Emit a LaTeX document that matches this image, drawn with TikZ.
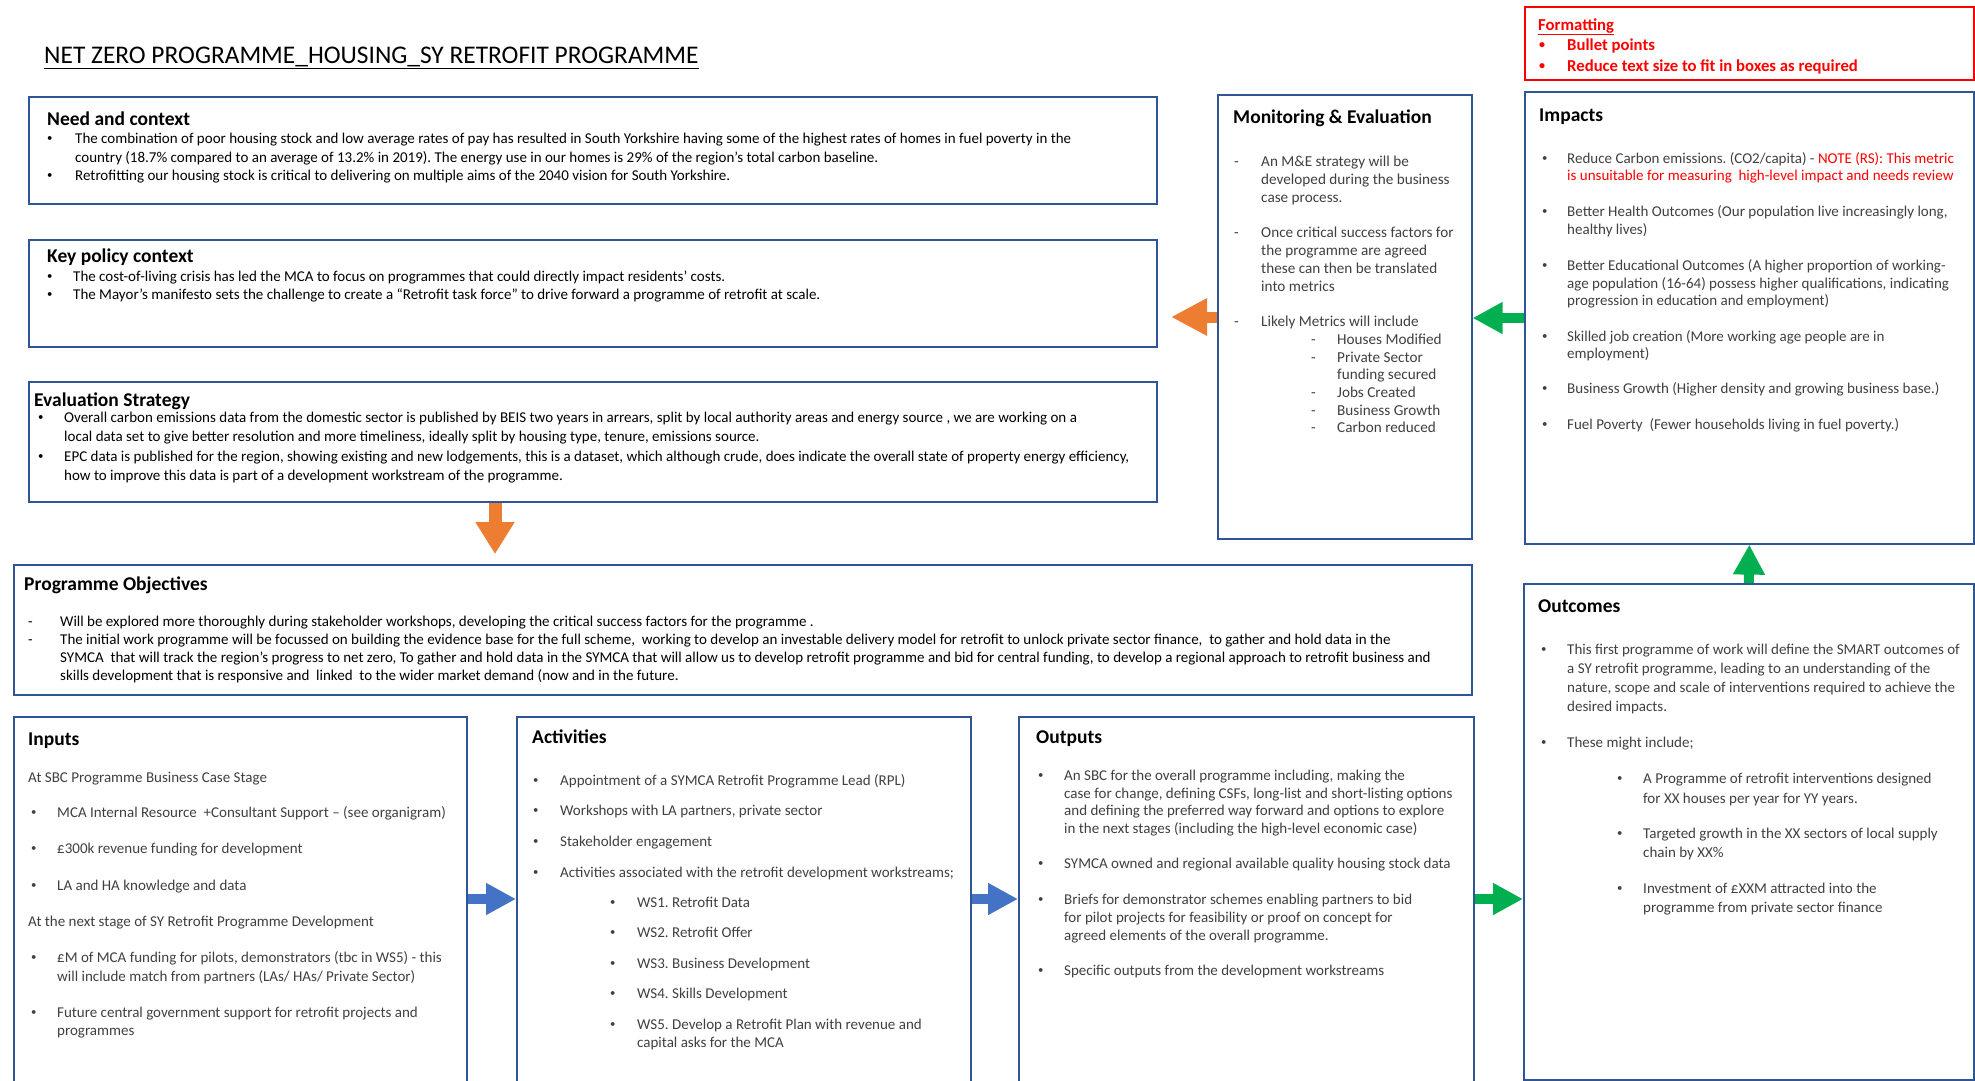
\documentclass[tikz,border=0pt]{standalone}
\usepackage{fontspec}
\usepackage{graphicx}
\setmainfont{Carlito}
\frenchspacing
\usetikzlibrary{arrows.meta}
\definecolor{boxblue}{RGB}{47,85,151}
\definecolor{arrorange}{RGB}{237,125,49}
\definecolor{arrblue}{RGB}{68,114,196}
\definecolor{arrgreen}{RGB}{0,176,80}
\definecolor{fmtred}{RGB}{255,0,0}
\definecolor{bodygray}{RGB}{64,64,64}
\newcommand\bul{\raisebox{.12em}{\scalebox{.72}{•}}}
\tikzset{
  bx/.style={draw=boxblue, line width=1.6pt, inner sep=0pt, anchor=north west, fill=white},
  redbx/.style={draw=fmtred, line width=1.6pt, inner sep=0pt, anchor=north west},
  tx/.style={inner sep=0pt, anchor=base west, font=\fontsize{15}{18}\selectfont, text=bodygray},
  txk/.style={tx, text=black, font=\fontsize{15}{18}\selectfont},
  txi/.style={tx, font=\fontsize{15}{18}\selectfont},
  txm/.style={tx, font=\fontsize{15.2}{18}\selectfont},
  hd/.style={inner sep=0pt, anchor=base west, font=\fontsize{19.5}{23}\selectfont\bfseries, text=black},
  fm/.style={inner sep=0pt, anchor=base west, font=\fontsize{16.7}{19}\selectfont\bfseries, text=fmtred},
  blockarr/.style={line width=10pt, -{Triangle[length=30pt,width=30pt]}},
}
\begin{document}
\begin{tikzpicture}[x=1pt,y=-1pt]
\useasboundingbox (0,0) rectangle (1975,1080);
\clip (0,0) rectangle (1975,1080);
\fill[white] (0,0) rectangle (1975,1080);

% ---------- boxes ----------
\node[redbx, minimum width=449pt, minimum height=73pt] (fmt) at (1524,6) {};
\node[bx, minimum width=1128pt, minimum height=107pt] (need) at (28,96) {};
\node[bx, minimum width=1128pt, minimum height=107pt] (key) at (28,239) {};
\node[bx, minimum width=1128pt, minimum height=120pt] (evals) at (28,381) {};
\node[bx, minimum width=1458pt, minimum height=130pt] (obj) at (13,564) {};
\node[bx, minimum width=254pt, minimum height=444pt] (me) at (1217,94) {};
\node[bx, minimum width=449pt, minimum height=452pt] (imp) at (1524,91) {};
\node[bx, minimum width=450pt, minimum height=496pt] (outc) at (1523,583) {};
\node[bx, minimum width=453pt, minimum height=380pt] (inp) at (13,716) {};
\node[bx, minimum width=454pt, minimum height=380pt] (act) at (516,716) {};
\node[bx, minimum width=455pt, minimum height=380pt] (outp) at (1018,716) {};

% ---------- arrows ----------
\coordinate (ya) at (0,899);
\coordinate (oa) at (1171,317);
\coordinate (ga) at (0,318);
\coordinate (od) at (495,554);
\draw[blockarr, arrblue] (inp.east |- ya) -- (act.west |- ya);
\draw[blockarr, arrblue] (act.east |- ya) -- (outp.west |- ya);
\draw[blockarr, arrgreen] (outp.east |- ya) -- (outc.west |- ya);
\draw[blockarr, arrgreen] (outc.north) -- (imp.south);
\draw[blockarr, arrgreen] (imp.west |- ga) -- (me.east |- ga);
\draw[line width=11pt, arrorange, -{Triangle[length=36pt,width=35pt]}] (me.west |- oa) -- (oa);
\draw[line width=13pt, arrorange, -{Triangle[length=32pt,width=37pt]}] (evals.south -| od) -- (od);

% ---------- title ----------
\node[inner sep=0pt, anchor=base west, font=\fontsize{25.4}{30}\selectfont] (title) at (44,63)
  {\underline{NET ZERO PROGRAMME\_HOUSING\_SY RETROFIT PROGRAMME}};

% ---------- formatting ----------
\node[fm] (fmt-t) at (1538,30) {\underline{Formatting}};
\node[fm] (fmt-b1) at (1539,50) {\bul};
\node[fm] (fmt-1) at (1567,50) {Bullet points};
\node[fm] (fmt-b2) at (1539,71) {\bul};
\node[fm] (fmt-2) at (1567,71) {Reduce text size to fit in boxes as required};

% ---------- need and context ----------
\node[hd] (need-t) at (47,125) {Need and context};
\node[txk] (need-b1) at (47,143) {\bul};
\node[txk] (need-1) at (75,143) {The combination of poor housing stock and low average rates of pay has resulted in South Yorkshire having some of the highest rates of homes in fuel poverty in the};
\node[txk] (need-2) at (75,162) {country (18.7\% compared to an average of 13.2\% in 2019). The energy use in our homes is 29\% of the region’s total carbon baseline.};
\node[txk] (need-b2) at (47,180) {\bul};
\node[txk] (need-3) at (75,180) {Retrofitting our housing stock is critical to delivering on multiple aims of the 2040 vision for South Yorkshire.};

% ---------- key policy ----------
\node[hd] (key-t) at (47,262) {Key policy context};
\node[txk] (key-b1) at (47,281) {\bul};
\node[txk] (key-1) at (73,281) {The cost-of-living crisis has led the MCA to focus on programmes that could directly impact residents' costs.};
\node[txk] (key-b2) at (47,299) {\bul};
\node[txk] (key-2) at (73,299) {The Mayor’s manifesto sets the challenge to create a “Retrofit task force” to drive forward a programme of retrofit at scale.};

% ---------- evaluation strategy ----------
\node[hd] (ev-t) at (34,406) {Evaluation Strategy};
\node[txk] (ev-b1) at (38,422) {\bul};
\node[txk] (ev-1) at (64,422) {Overall carbon emissions data from the domestic sector is published by BEIS two years in arrears, split by local authority areas and energy source , we are working on a};
\node[txk] (ev-2) at (64,441) {local data set to give better resolution and more timeliness, ideally split by housing type, tenure, emissions source.};
\node[txk] (ev-b2) at (38,461) {\bul};
\node[txk] (ev-3) at (64,461) {EPC data is published for the region, showing existing and new lodgements, this is a dataset, which although crude, does indicate the overall state of property energy efficiency,};
\node[txk] (ev-4) at (64,480) {how to improve this data is part of a development workstream of the programme.};

% ---------- programme objectives ----------
\node[hd] (obj-t) at (24,590) {Programme Objectives};
\node[txk] (obj-d1) at (28,626) {-};
\node[txk] (obj-1) at (60,626) {Will be explored more thoroughly during stakeholder workshops, developing the critical success factors for the programme .};
\node[txk] (obj-d2) at (28,644) {-};
\node[txk] (obj-2) at (60,644) {The initial work programme will be focussed on building the evidence base for the full scheme,\ \ working to develop an investable delivery model for retrofit to unlock private sector finance,\ \ to gather and hold data in the};
\node[txk] (obj-3) at (60,662) {SYMCA\ \ that will track the region’s progress to net zero, To gather and hold data in the SYMCA that will allow us to develop retrofit programme and bid for central funding, to develop a regional approach to retrofit business and};
\node[txk] (obj-4) at (60,680) {skills development that is responsive and\ \ linked\ \ to the wider market demand (now and in the future.};

% ---------- monitoring & evaluation ----------
\node[hd] (me-t) at (1233,123) {Monitoring \& Evaluation};
\node[txm] (me-d1) at (1234,166) {-};
\node[txm] (me-1) at (1261,166) {An M\&E strategy will be};
\node[txm] (me-2) at (1261,184) {developed during the business};
\node[txm] (me-3) at (1261,202) {case process.};
\node[txm] (me-d2) at (1234,237) {-};
\node[txm] (me-4) at (1261,237) {Once critical success factors for};
\node[txm] (me-5) at (1261,255) {the programme are agreed};
\node[txm] (me-6) at (1261,273) {these can then be translated};
\node[txm] (me-7) at (1261,291) {into metrics};
\node[txm] (me-d3) at (1234,326) {-};
\node[txm] (me-8) at (1261,326) {Likely Metrics will include};
\node[txm] (me-s1d) at (1311,344) {-};
\node[txm] (me-s1) at (1337,344) {Houses Modified};
\node[txm] (me-s2d) at (1311,362) {-};
\node[txm] (me-s2) at (1337,362) {Private Sector};
\node[txm] (me-s2b) at (1337,379) {funding secured};
\node[txm] (me-s3d) at (1311,397) {-};
\node[txm] (me-s3) at (1337,397) {Jobs Created};
\node[txm] (me-s4d) at (1311,415) {-};
\node[txm] (me-s4) at (1337,415) {Business Growth};
\node[txm] (me-s5d) at (1311,432) {-};
\node[txm] (me-s5) at (1337,432) {Carbon reduced};

% ---------- impacts ----------
\node[hd] (imp-t) at (1539,121) {Impacts};
\node[txi] (imp-b1) at (1542,163) {\bul};
\node[txi] (imp-1) at (1567,163) {Reduce Carbon emissions. (CO2/capita) - \textcolor{fmtred}{NOTE (RS): This metric}};
\node[txi, text=fmtred] (imp-2) at (1567,180) {is unsuitable for measuring\ \ high-level impact and needs review};
\node[txi] (imp-b2) at (1542,216) {\bul};
\node[txi] (imp-3) at (1567,216) {Better Health Outcomes (Our population live increasingly long,};
\node[txi] (imp-4) at (1567,234) {healthy lives)};
\node[txi] (imp-b3) at (1542,270) {\bul};
\node[txi] (imp-5) at (1567,270) {Better Educational Outcomes (A higher proportion of working-};
\node[txi] (imp-6) at (1567,288) {age population (16-64) possess higher qualifications, indicating};
\node[txi] (imp-7) at (1567,305) {progression in education and employment)};
\node[txi] (imp-b4) at (1542,341) {\bul};
\node[txi] (imp-8) at (1567,341) {Skilled job creation (More working age people are in};
\node[txi] (imp-9) at (1567,358) {employment)};
\node[txi] (imp-b5) at (1542,393) {\bul};
\node[txi] (imp-10) at (1567,393) {Business Growth (Higher density and growing business base.)};
\node[txi] (imp-b6) at (1542,429) {\bul};
\node[txi] (imp-11) at (1567,429) {Fuel Poverty\ \ (Fewer households living in fuel poverty.)};

% ---------- outcomes ----------
\node[hd] (oc-t) at (1538,612) {Outcomes};
\node[tx] (oc-b1) at (1541,654) {\bul};
\node[tx] (oc-1) at (1567,654) {This first programme of work will define the SMART outcomes of};
\node[tx] (oc-2) at (1567,673) {a SY retrofit programme, leading to an understanding of the};
\node[tx] (oc-3) at (1567,692) {nature, scope and scale of interventions required to achieve the};
\node[tx] (oc-4) at (1567,711) {desired impacts.};
\node[tx] (oc-b2) at (1541,747) {\bul};
\node[tx] (oc-5) at (1567,747) {These might include;};
\node[tx] (oc-s1b) at (1617,783) {\bul};
\node[tx] (oc-s1) at (1643,783) {A Programme of retrofit interventions designed};
\node[tx] (oc-s1c) at (1643,803) {for XX houses per year for YY years.};
\node[tx] (oc-s2b) at (1617,838) {\bul};
\node[tx] (oc-s2) at (1643,838) {Targeted growth in the XX sectors of local supply};
\node[tx] (oc-s2c) at (1643,857) {chain by XX\%};
\node[tx] (oc-s3b) at (1617,893) {\bul};
\node[tx] (oc-s3) at (1643,893) {Investment of £XXM attracted into the};
\node[tx] (oc-s3c) at (1643,912) {programme from private sector finance};

% ---------- inputs ----------
\node[hd] (in-t) at (28,745) {Inputs};
\node[tx] (in-h1) at (28,782) {At SBC Programme Business Case Stage};
\node[tx] (in-b1) at (31,817) {\bul};
\node[tx] (in-1) at (57,817) {MCA Internal Resource\ \ +Consultant Support – (see organigram)};
\node[tx] (in-b2) at (31,853) {\bul};
\node[tx] (in-2) at (57,853) {£300k revenue funding for development};
\node[tx] (in-b3) at (31,890) {\bul};
\node[tx] (in-3) at (57,890) {LA and HA knowledge and data};
\node[tx] (in-h2) at (28,926) {At the next stage of SY Retrofit Programme Development};
\node[tx] (in-b4) at (31,962) {\bul};
\node[tx] (in-4) at (57,962) {£M of MCA funding for pilots, demonstrators (tbc in WS5) - this};
\node[tx] (in-5) at (57,981) {will include match from partners (LAs/ HAs/ Private Sector)};
\node[tx] (in-b5) at (31,1017) {\bul};
\node[tx] (in-6) at (57,1017) {Future central government support for retrofit projects and};
\node[tx] (in-7) at (57,1035) {programmes};

% ---------- activities ----------
\node[hd] (ac-t) at (532,743) {Activities};
\node[tx] (ac-b1) at (533,785) {\bul};
\node[tx] (ac-1) at (560,785) {Appointment of a SYMCA Retrofit Programme Lead (RPL)};
\node[tx] (ac-b2) at (533,815) {\bul};
\node[tx] (ac-2) at (560,815) {Workshops with LA partners, private sector};
\node[tx] (ac-b3) at (533,846) {\bul};
\node[tx] (ac-3) at (560,846) {Stakeholder engagement};
\node[tx] (ac-b4) at (533,877) {\bul};
\node[tx] (ac-4) at (560,877) {Activities associated with the retrofit development workstreams;};
\node[tx] (ac-s1b) at (610,907) {\bul};
\node[tx] (ac-s1) at (637,907) {WS1. Retrofit Data};
\node[tx] (ac-s2b) at (610,937) {\bul};
\node[tx] (ac-s2) at (637,937) {WS2. Retrofit Offer};
\node[tx] (ac-s3b) at (610,968) {\bul};
\node[tx] (ac-s3) at (637,968) {WS3. Business Development};
\node[tx] (ac-s4b) at (610,998) {\bul};
\node[tx] (ac-s4) at (637,998) {WS4. Skills Development};
\node[tx] (ac-s5b) at (610,1029) {\bul};
\node[tx] (ac-s5) at (637,1029) {WS5. Develop a Retrofit Plan with revenue and};
\node[tx] (ac-s5c) at (637,1047) {capital asks for the MCA};

% ---------- outputs ----------
\node[hd] (op-t) at (1036,743) {Outputs};
\node[tx] (op-b1) at (1038,780) {\bul};
\node[tx] (op-1) at (1064,780) {An SBC for the overall programme including, making the};
\node[tx] (op-2) at (1064,798) {case for change, defining CSFs, long-list and short-listing options};
\node[tx] (op-3) at (1064,815) {and defining the preferred way forward and options to explore};
\node[tx] (op-4) at (1064,833) {in the next stages (including the high-level economic case)};
\node[tx] (op-b2) at (1038,868) {\bul};
\node[tx] (op-5) at (1064,868) {SYMCA owned and regional available quality housing stock data};
\node[tx] (op-b3) at (1038,904) {\bul};
\node[tx] (op-6) at (1064,904) {Briefs for demonstrator schemes enabling partners to bid};
\node[tx] (op-7) at (1064,922) {for pilot projects for feasibility or proof on concept for};
\node[tx] (op-8) at (1064,940) {agreed elements of the overall programme.};
\node[tx] (op-b4) at (1038,975) {\bul};
\node[tx] (op-9) at (1064,975) {Specific outputs from the development workstreams};
\end{tikzpicture}
\end{document}
